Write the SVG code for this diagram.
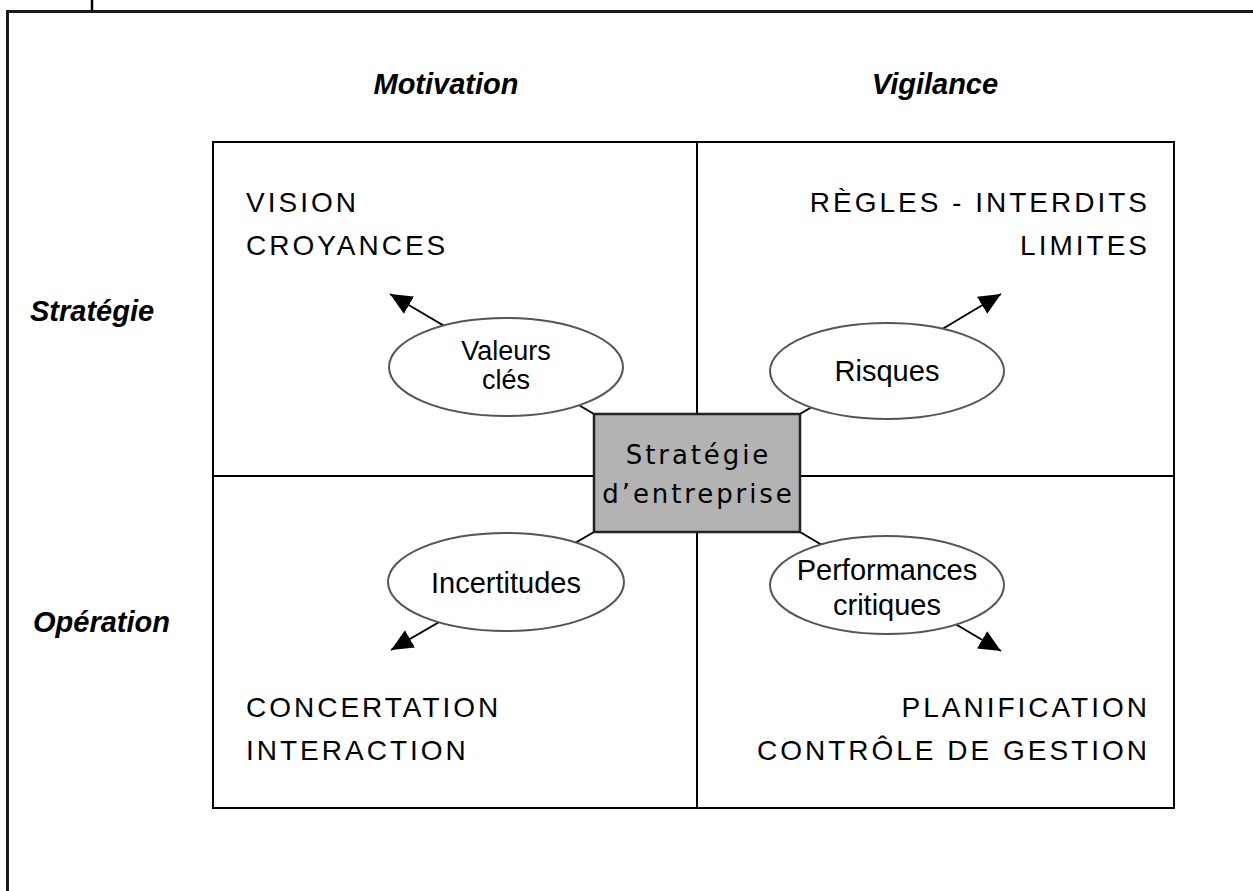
<svg xmlns="http://www.w3.org/2000/svg" width="1253" height="891" viewBox="0 0 1253 891">
<style>
.frame{fill:none;stroke:#1a1a1a;stroke-width:3}
.grid{fill:none;stroke:#000;stroke-width:2}
.conn{stroke:#000;stroke-width:2;fill:none}
.ell{fill:#fff;stroke:#555;stroke-width:2}
.box{fill:#b3b3b3;stroke:#222;stroke-width:2.5}
.hdr{font-family:"Liberation Sans",Arial,sans-serif;font-weight:bold;font-style:italic;font-size:29px;fill:#000}
.cap{font-family:"Liberation Sans",Arial,sans-serif;font-size:28px;letter-spacing:3px;fill:#000}
.elt{font-family:"Liberation Sans",Arial,sans-serif;font-size:29px;fill:#000;text-anchor:middle}
.elt2{font-size:27px}
.ctr{font-family:"DejaVu Sans",Verdana,sans-serif;font-size:26px;letter-spacing:2.9px;fill:#000;text-anchor:middle}
</style>
<defs>
<marker id="ah" markerUnits="userSpaceOnUse" markerWidth="24" markerHeight="22" refX="22" refY="10" orient="auto">
<path d="M0,0 L22,10 L0,20 z" fill="#000"/>
</marker>
</defs>
<rect width="1253" height="891" fill="#fff"/>
<g id="frame">
<path class="frame" d="M7.5,891 V11.5 H1253"/>
<line x1="92" y1="0" x2="92" y2="11" stroke="#000" stroke-width="2.5"/>
</g>
<g id="grid">
<rect class="grid" x="213" y="142" width="961" height="666"/>
<line class="grid" x1="697" y1="142" x2="697" y2="808"/>
<line class="grid" x1="213" y1="476" x2="1174" y2="476"/>
</g>
<g id="headers">
<text class="hdr" x="446" y="94" text-anchor="middle">Motivation</text>
<text class="hdr" x="935" y="94" text-anchor="middle">Vigilance</text>
<text class="hdr" x="30" y="321">Stratégie</text>
<text class="hdr" x="33" y="632">Opération</text>
</g>
<g id="quadrant-labels">
<text class="cap" x="246" y="212">VISION</text>
<text class="cap" x="246" y="255">CROYANCES</text>
<text class="cap" x="1150" y="212" text-anchor="end">RÈGLES - INTERDITS</text>
<text class="cap" x="1150" y="255" text-anchor="end">LIMITES</text>
<text class="cap" x="246" y="717">CONCERTATION</text>
<text class="cap" x="246" y="760">INTERACTION</text>
<text class="cap" x="1150" y="717" text-anchor="end">PLANIFICATION</text>
<text class="cap" x="1150" y="760" text-anchor="end">CONTRÔLE DE GESTION</text>
</g>
<g id="connectors">
<line class="conn" x1="594" y1="414" x2="390" y2="294" marker-end="url(#ah)"/>
<line class="conn" x1="800" y1="414" x2="1001" y2="294" marker-end="url(#ah)"/>
<line class="conn" x1="594" y1="532" x2="391" y2="650" marker-end="url(#ah)"/>
<line class="conn" x1="800" y1="532" x2="1001" y2="651" marker-end="url(#ah)"/>
</g>
<g id="valeurs">
<ellipse class="ell" cx="506" cy="367" rx="117" ry="49"/>
<text class="elt elt2" x="506" y="360">Valeurs</text>
<text class="elt elt2" x="506" y="389">clés</text>
</g>
<g id="risques">
<ellipse class="ell" cx="887" cy="371" rx="117" ry="48"/>
<text class="elt" x="887" y="381">Risques</text>
</g>
<g id="incertitudes">
<ellipse class="ell" cx="506" cy="582" rx="118" ry="49"/>
<text class="elt" x="506" y="593">Incertitudes</text>
</g>
<g id="performances">
<ellipse class="ell" cx="887" cy="585" rx="117" ry="49"/>
<text class="elt" x="887" y="580">Performances</text>
<text class="elt" x="887" y="615">critiques</text>
</g>
<g id="strategie">
<rect class="box" x="594" y="414" width="206" height="118"/>
<text class="ctr" x="698.5" y="464">Stratégie</text>
<text class="ctr" x="698.5" y="503">d’entreprise</text>
</g>
</svg>
